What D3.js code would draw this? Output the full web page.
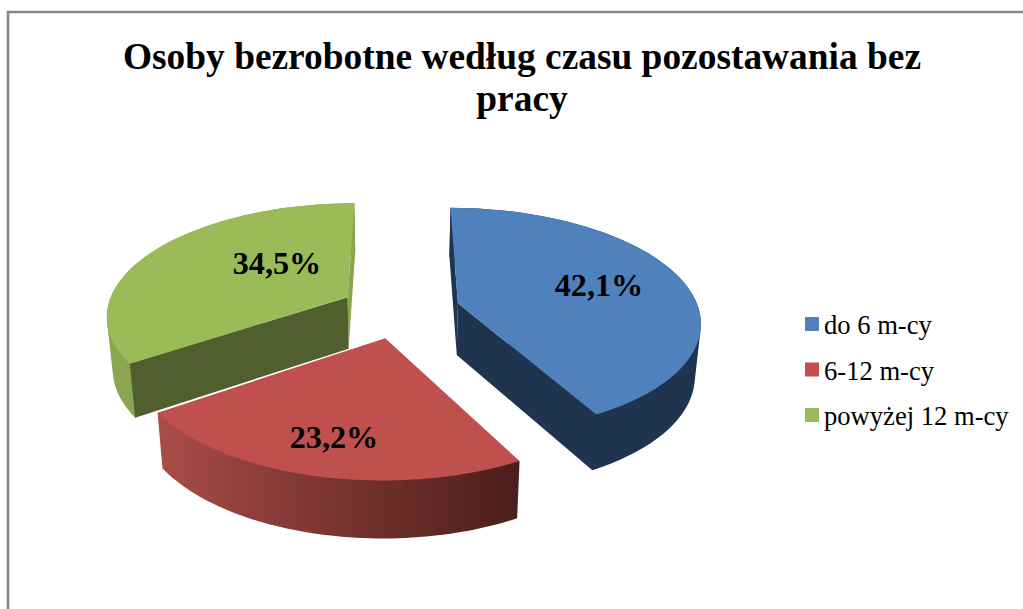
<!DOCTYPE html>
<html lang="pl">

<head>
  <meta charset="UTF-8">
  <title>Osoby bezrobotne</title>
  <script src="https://cdn.jsdelivr.net/npm/d3@7"></script>
  <style>
    html, body { margin: 0; padding: 0; background: #fff; overflow: hidden; }
    svg { display: block; }
    text { font-family: "Liberation Serif", serif; fill: #000; }
  </style>
</head>

<body>
<script>
const categories = ['do 6 m-cy', '6-12 m-cy', 'powyżej 12 m-cy'];
const shares = [42.1, 23.2, 34.5];
const titleLines = ['Osoby bezrobotne według czasu pozostawania bez', 'pracy'];

const width = 1023;
const height = 609;

const topColors = ['#4f81bd', '#c0504d', '#9bbb59'];
const sideColors = ['#1f344f', 'url(#red-side)', '#8ba651'];
// cut faces at the start and the end of each slice, red ones face away
const startCutColors = ['#1f344f', 'none', '#505f2d'];
const endCutColors = ['#1f344f', 'none', '#8ba651'];
const labelSpots = [[599, 285], [334, 437], [277, 263]];

// tilted disc seen in perspective, centre of the pie in screen px
const cx = 400, cy = 310, radius = 241, explode = 0.25;
const persp = 0.15, horizon = 744, thickness = 52, shrink = 0.98;

const color = d3.scaleOrdinal().domain(categories).range(topColors);

const svg = d3.select('body').append('svg')
  .attr('width', width)
  .attr('height', height);

const grad = svg.append('defs').append('linearGradient')
  .attr('id', 'red-side');
grad.append('stop').attr('offset', 0).attr('stop-color', '#a94c49');
grad.append('stop').attr('offset', 0.5).attr('stop-color', '#78332f');
grad.append('stop').attr('offset', 1).attr('stop-color', '#4c1e1b');

// chart frame, runs off the right and bottom of the window
svg.append('rect')
  .attr('x', 8)
  .attr('y', 12)
  .attr('width', width + 20)
  .attr('height', height + 20)
  .attr('fill', '#fff')
  .attr('stroke', '#868686')
  .attr('stroke-width', 2.5);

svg.append('g')
  .selectAll('text')
  .data(titleLines)
  .join('text')
  .attr('x', 522)
  .attr('y', (d, i) => 69 + i * 42)
  .attr('text-anchor', 'middle')
  .attr('font-size', 37.4)
  .attr('font-weight', 'bold')
  .text(d => d);

const slices = d3.pie().sort(null).value(d => d)(shares).map((s, i) => {
  const mid = (s.startAngle + s.endAngle) / 2;
  return {
    index: i,
    a0: s.startAngle,
    a1: s.endAngle,
    ox: Math.sin(mid) * explode,
    oy: -Math.cos(mid) * explode
  };
});

// x/y on the unit disc (y towards the viewer) to screen, lower=true for the under side
function project(x, y, lower) {
  const s = 1 / (1 - persp * y);
  const sx = x * radius * s;
  const sy = horizon * (s - 1);
  if (lower) return [cx + sx * shrink, cy + sy + thickness * (1 + (s - 1) * 0.5)];
  return [cx + sx, cy + sy];
}

function rimPoints(d, lower) {
  const steps = d3.range(0, 61).map(k => d.a0 + (d.a1 - d.a0) * k / 60);
  return steps.map(a => project(d.ox + Math.sin(a), d.oy - Math.cos(a), lower));
}

function apex(d, lower) {
  return project(d.ox, d.oy, lower);
}

const line = d3.line();

function closed(points) {
  return line(points) + 'Z';
}

const g = svg.append('g');

// back to front: green, blue, red
[slices[2], slices[0], slices[1]].forEach(d => {
  const top = rimPoints(d, false);
  const low = rimPoints(d, true);
  const i = d.index;

  // hull keeps the silhouette smooth where the rim turns, the top face hides the rest
  g.append('path')
    .attr('d', closed(d3.polygonHull(top.concat(low))))
    .attr('fill', sideColors[i]);

  g.append('path')
    .attr('d', closed([apex(d, false), top[60], low[60], apex(d, true)]))
    .attr('fill', endCutColors[i]);

  g.append('path')
    .attr('d', closed([apex(d, false), top[0], low[0], apex(d, true)]))
    .attr('fill', startCutColors[i]);

  g.append('path')
    .attr('d', closed([apex(d, false)].concat(top)))
    .attr('fill', color(categories[i]));
});

svg.append('g')
  .selectAll('text')
  .data(shares)
  .join('text')
  .attr('x', (d, i) => labelSpots[i][0])
  .attr('y', (d, i) => labelSpots[i][1])
  .attr('dy', '0.35em')
  .attr('text-anchor', 'middle')
  .attr('font-size', 32.2)
  .attr('font-weight', 'bold')
  .text(d => d.toFixed(1).replace('.', ',') + '%');

const legend = svg.append('g')
  .selectAll('g')
  .data(categories)
  .join('g')
  .attr('transform', (d, i) => 'translate(805,' + (317 + i * 45.5) + ')');

legend.append('rect')
  .attr('width', 14)
  .attr('height', 14)
  .attr('fill', d => color(d));

legend.append('text')
  .attr('x', 19)
  .attr('y', 17)
  .attr('font-size', 26.6)
  .text(d => d);
</script>
</body>

</html>
